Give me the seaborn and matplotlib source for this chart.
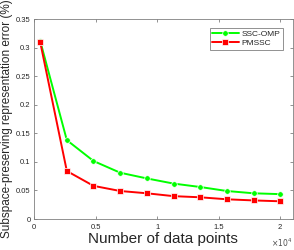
import numpy as np
import pandas as pd
import matplotlib
matplotlib.use("Agg")
import matplotlib.pyplot as plt
import seaborn as sns
from matplotlib.ticker import FuncFormatter

n_points = [500, 2667, 4833, 7000, 9167, 11333, 13500, 15667, 17833, 20000]
ssc_omp = [0.312, 0.138, 0.1015, 0.081, 0.071, 0.062, 0.056, 0.049, 0.045, 0.0435]
pmssc = [0.310, 0.084, 0.058, 0.049, 0.045, 0.040, 0.038, 0.0345, 0.0325, 0.031]
x_ticks = [0, 5000, 10000, 15000, 20000]
y_ticks = [0, 0.05, 0.1, 0.15, 0.2, 0.25, 0.3, 0.35]

sns.set_style("ticks")
plt.rcParams['font.family'] = ['Liberation Sans', 'DejaVu Sans']

fig = plt.figure(figsize=(2.94, 2.5), dpi=100)
ax = fig.add_axes([34/294, 31/250, (292.5-34)/294, (219-19)/250])

df = pd.DataFrame({"n": n_points + n_points,
                   "err": ssc_omp + pmssc,
                   "method": ["SSC-OMP"]*len(n_points) + ["PMSSC"]*len(n_points)})

sns.lineplot(data=df[df.method == "SSC-OMP"], x="n", y="err", ax=ax, color=(0, 1, 0),
             marker="o", markersize=4, markeredgewidth=0.5, linewidth=1.4, label="SSC-OMP")
sns.lineplot(data=df[df.method == "PMSSC"], x="n", y="err", ax=ax, color=(1, 0, 0),
             marker="s", markersize=4, markeredgewidth=0.5, linewidth=1.4, label="PMSSC")

ax.set_xlim(0, 21000)
ax.set_ylim(0, 0.35)
ax.set_xticks(x_ticks)
ax.set_yticks(y_ticks)
ax.xaxis.set_major_formatter(FuncFormatter(lambda v, p: "%g" % (v/1e4)))
ax.yaxis.set_major_formatter(FuncFormatter(lambda v, p: "%g" % v))

for s in ax.spines.values():
    s.set_visible(True)
    s.set_color("0.5")
    s.set_linewidth(0.6)
ax.tick_params(direction="in", length=2.5, width=0.6, color="0.5", labelsize=5.5,
               labelcolor="0.15", pad=2.5, top=True, right=True)
ax.tick_params(axis="x", pad=3.5)

ax.set_xlabel("Number of data points", fontsize=11, color="0.15", labelpad=0.5)
ax.set_ylabel("Subspace-preserving representation error (%)", fontsize=8.5, color="0.15", labelpad=2)
ax.text(1.0, -0.09, r"$\times10^{4}$", transform=ax.transAxes, ha="right", va="top",
        fontsize=5.5, color="0.3")

leg = ax.legend(loc="upper right", bbox_to_anchor=(0.962, 0.955), fontsize=6,
                frameon=True, fancybox=False, edgecolor="0.5", framealpha=1,
                handlelength=3.2, handletextpad=0.3, borderpad=0.3, labelspacing=0.15,
                borderaxespad=0)
leg.get_frame().set_linewidth(0.6)

fig.savefig("out.png", dpi=100)
